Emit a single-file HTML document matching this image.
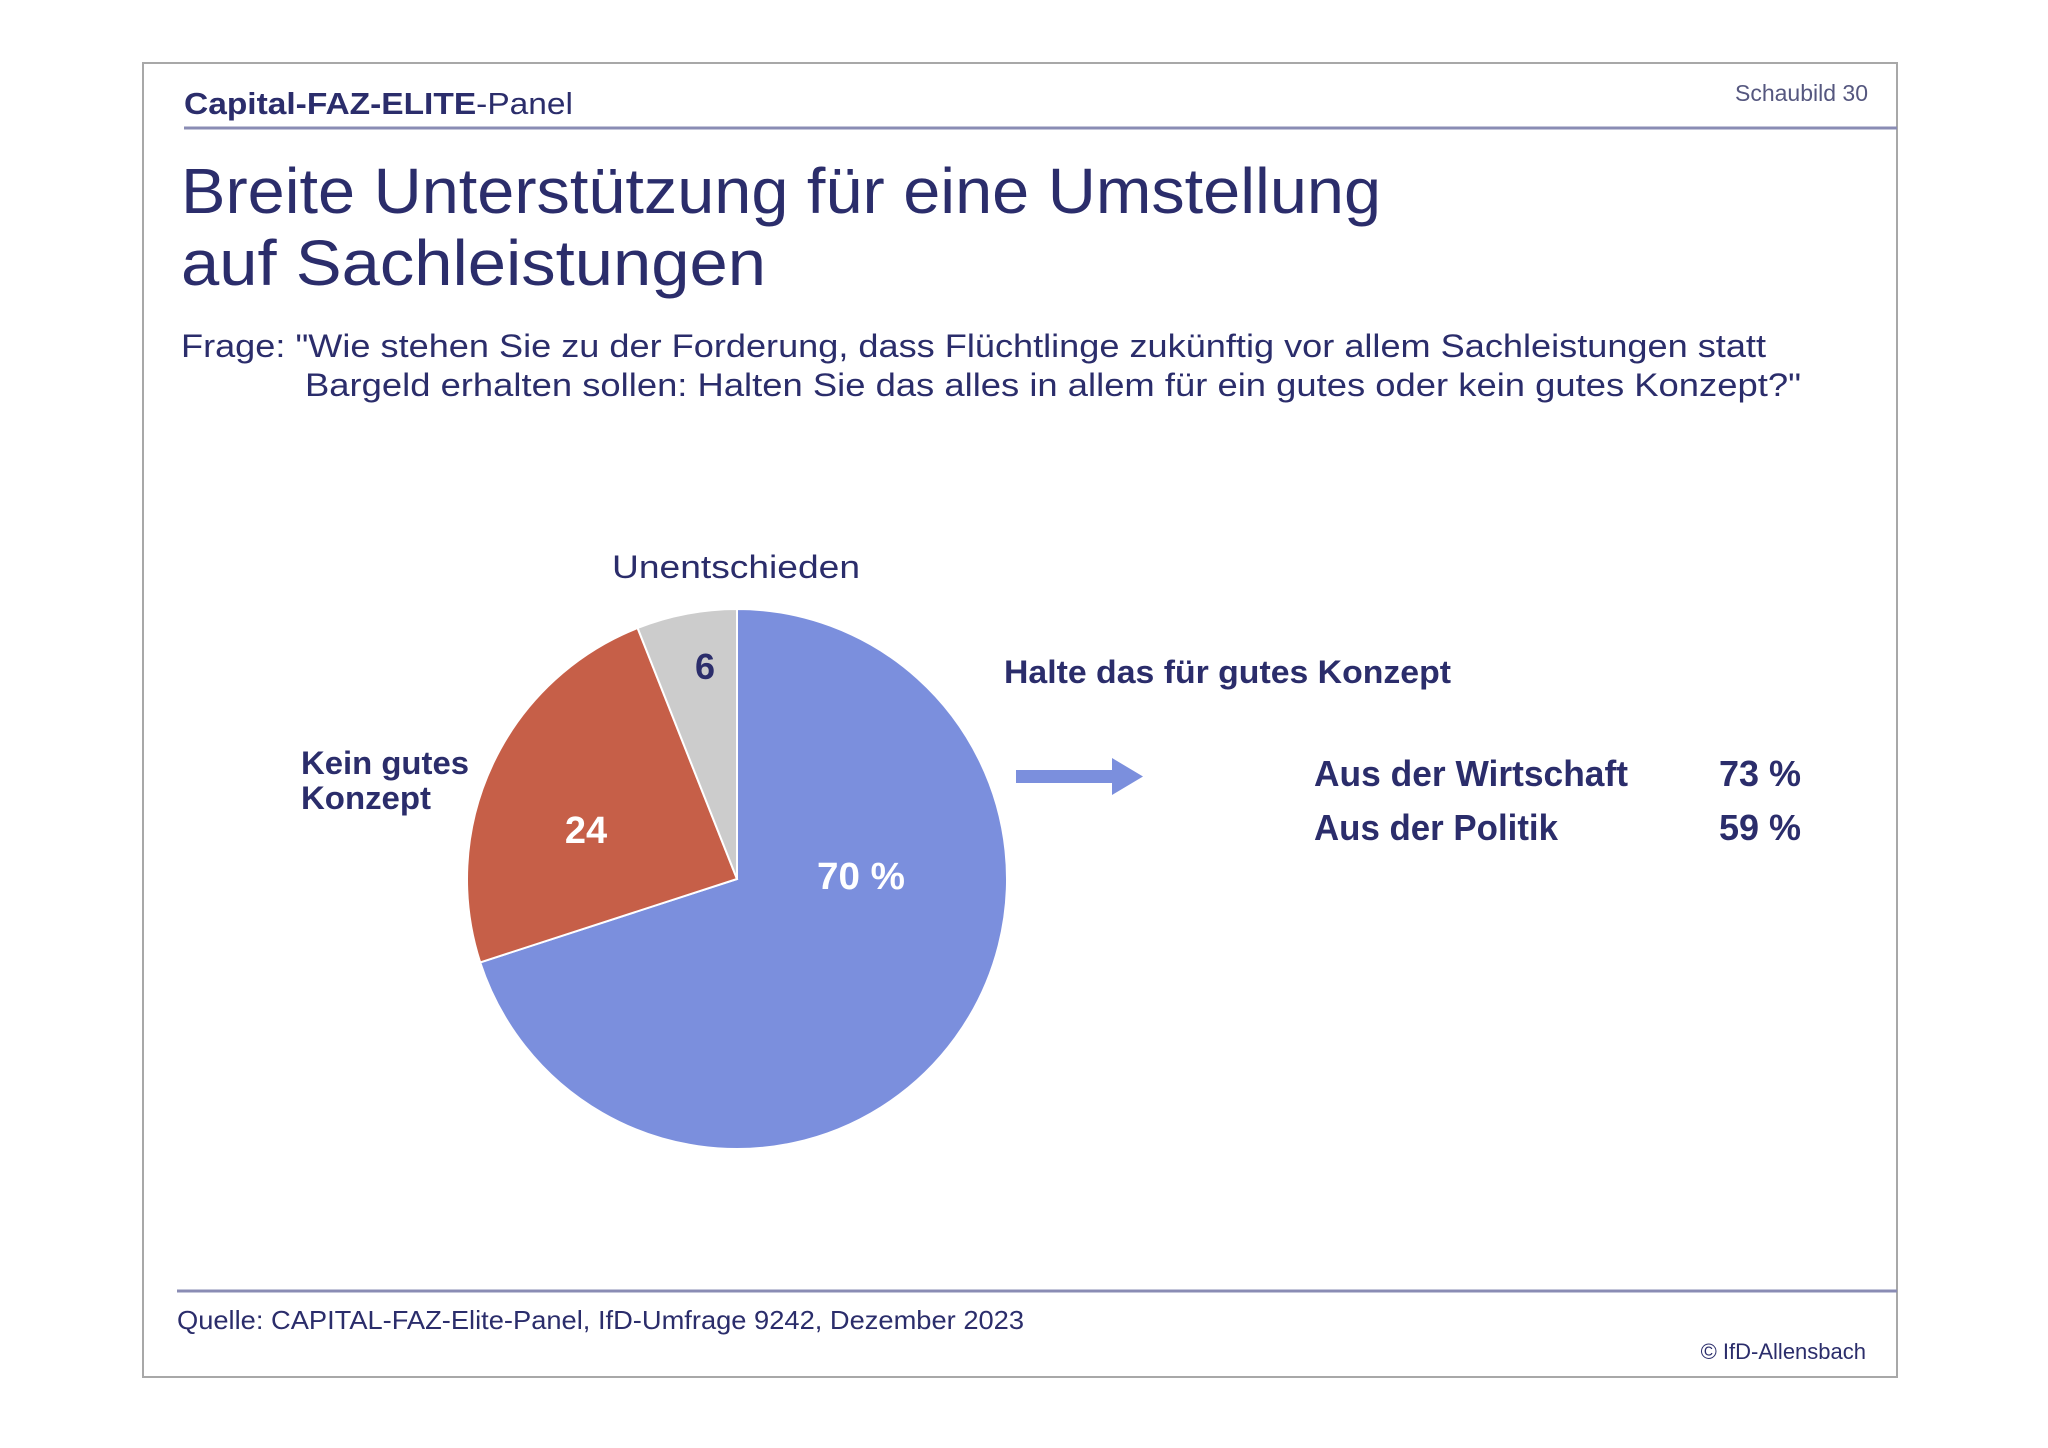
<!DOCTYPE html>
<html><head><meta charset="utf-8"><style>
html,body{margin:0;padding:0;background:#fff;}
svg{display:block;}
text{font-family:"Liberation Sans",sans-serif;fill:#2b2d6b;}
</style></head><body>
<svg width="2048" height="1448" viewBox="0 0 2048 1448" xmlns="http://www.w3.org/2000/svg">
<rect x="0" y="0" width="2048" height="1448" fill="#fff"/>
<rect x="143" y="63" width="1754" height="1314" fill="none" stroke="#a8a8a8" stroke-width="2"/>
<text x="184" y="114" font-size="31" textLength="389" lengthAdjust="spacingAndGlyphs"><tspan font-weight="bold">Capital-FAZ-ELITE</tspan>-Panel</text>
<text x="1868" y="101" font-size="23" text-anchor="end" style="fill:#55577f">Schaubild 30</text>
<line x1="184" y1="128" x2="1897" y2="128" stroke="#8a8cb4" stroke-width="3"/>
<text x="181" y="213" font-size="64" textLength="1200" lengthAdjust="spacingAndGlyphs">Breite Unterstützung für eine Umstellung</text>
<text x="181" y="285" font-size="64" textLength="585" lengthAdjust="spacingAndGlyphs">auf Sachleistungen</text>
<text x="181" y="357" font-size="32" textLength="1585" lengthAdjust="spacingAndGlyphs">Frage: "Wie stehen Sie zu der Forderung, dass Flüchtlinge zukünftig vor allem Sachleistungen statt</text>
<text x="305" y="396" font-size="32" textLength="1496" lengthAdjust="spacingAndGlyphs">Bargeld erhalten sollen: Halten Sie das alles in allem für ein gutes oder kein gutes Konzept?"</text>

<path d="M737,879 L737,609 A270,270 0 1 1 480.2,962.4 Z" fill="#7b8fdd" stroke="#fff" stroke-width="2"/>
<path d="M737,879 L480.2,962.4 A270,270 0 0 1 637.6,628 Z" fill="#c65f48" stroke="#fff" stroke-width="2"/>
<path d="M737,879 L637.6,628 A270,270 0 0 1 737,609 Z" fill="#cccccc" stroke="#fff" stroke-width="2"/>

<text x="612" y="578" font-size="32" textLength="248" lengthAdjust="spacingAndGlyphs">Unentschieden</text>
<text x="705" y="679" font-size="36" font-weight="bold" text-anchor="middle">6</text>
<text x="586" y="843" font-size="38" font-weight="bold" text-anchor="middle" style="fill:#fff">24</text>
<text x="817" y="889" font-size="38" font-weight="bold" textLength="88" lengthAdjust="spacingAndGlyphs" style="fill:#fff">70 %</text>
<text x="301" y="774" font-size="32" font-weight="bold" textLength="168" lengthAdjust="spacingAndGlyphs">Kein gutes</text>
<text x="301" y="809" font-size="32" font-weight="bold" textLength="130" lengthAdjust="spacingAndGlyphs">Konzept</text>
<text x="1004" y="683" font-size="32" font-weight="bold" textLength="447" lengthAdjust="spacingAndGlyphs">Halte das für gutes Konzept</text>
<path d="M1016,770 L1112,770 L1112,758 L1143,776.5 L1112,795 L1112,783 L1016,783 Z" fill="#7b8fdd"/>
<text x="1314" y="786" font-size="36" font-weight="bold" textLength="314" lengthAdjust="spacingAndGlyphs">Aus der Wirtschaft</text>
<text x="1314" y="840" font-size="36" font-weight="bold" textLength="244" lengthAdjust="spacingAndGlyphs">Aus der Politik</text>
<text x="1801" y="786" font-size="36" font-weight="bold" text-anchor="end">73 %</text>
<text x="1801" y="840" font-size="36" font-weight="bold" text-anchor="end">59 %</text>

<line x1="177" y1="1291" x2="1897" y2="1291" stroke="#8a8cb4" stroke-width="3"/>
<text x="177" y="1329" font-size="26" textLength="847" lengthAdjust="spacingAndGlyphs">Quelle: CAPITAL-FAZ-Elite-Panel, IfD-Umfrage 9242, Dezember 2023</text>
<text x="1866" y="1359" font-size="22" text-anchor="end">© IfD-Allensbach</text>
</svg>
</body></html>
